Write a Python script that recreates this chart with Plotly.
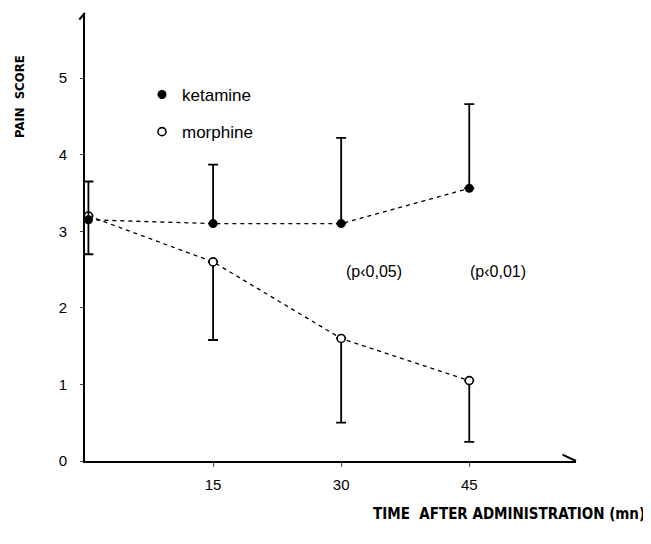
import plotly.graph_objects as go

# Data
time_min = [0.4, 15, 30, 45]
ketamine = [3.15, 3.1, 3.1, 3.56]
ketamine_err_plus = [0.5, 0.77, 1.12, 1.1]
ketamine_err_minus = [0.45, 0, 0, 0]
morphine = [3.2, 2.6, 1.6, 1.05]
morphine_err_plus = [0, 0, 0, 0]
morphine_err_minus = [0, 1.02, 1.1, 0.8]
x_ticks = [15, 30, 45]
y_ticks = [0, 1, 2, 3, 4, 5]
p_labels = ["(p‹0,05)", "(p‹0,01)"]
p_label_x = [33.8, 48.4]
p_label_y = 2.48

W, H = 651, 544
OFF = 7  # page body margin offset
L, T = 84 - OFF, 12 - OFF
pw, ph = 491, 448
R, B = W - L - pw, H - T - ph


def px2paper(px, py):
    return (px - 84) / pw, (460 - py) / ph


fig = go.Figure()

fig.add_trace(go.Scatter(
    x=time_min, y=morphine, mode="lines+markers", name="morphine",
    line=dict(color="black", width=1.3, dash="4px,4px"),
    marker=dict(symbol="circle", size=8, color="white", line=dict(width=1.6, color="black")),
    error_y=dict(type="data", symmetric=False, array=morphine_err_plus,
                 arrayminus=morphine_err_minus, color="black", thickness=1.8, width=5),
    showlegend=False, cliponaxis=False))

fig.add_trace(go.Scatter(
    x=time_min, y=ketamine, mode="lines+markers", name="ketamine",
    line=dict(color="black", width=1.3, dash="4px,4px"),
    marker=dict(symbol="circle", size=9, color="black"),
    error_y=dict(type="data", symmetric=False, array=ketamine_err_plus,
                 arrayminus=ketamine_err_minus, color="black", thickness=1.8, width=5),
    showlegend=False, cliponaxis=False))

# Legend entries
fig.add_trace(go.Scatter(x=[None], y=[None], mode="markers", name="ketamine",
                         marker=dict(symbol="circle", size=9, color="black"),
                         legendgroup="k"))
fig.add_trace(go.Scatter(x=[None], y=[None], mode="markers", name="morphine",
                         marker=dict(symbol="circle", size=8, color="white",
                                     line=dict(width=1.6, color="black")),
                         legendgroup="m"))

for lab, xv in zip(p_labels, p_label_x):
    fig.add_annotation(x=xv, y=p_label_y, text=lab, showarrow=False,
                       font=dict(family="Liberation Sans", size=16, color="black"))

# axis arrows
fig.add_annotation(x=1, y=0, xref="paper", yref="paper", ax=-15, ay=-7,
                   showarrow=True, arrowhead=0, arrowwidth=2, arrowcolor="black", text="")
fig.add_annotation(x=0, y=1, xref="paper", yref="paper", ax=-7, ay=8,
                   showarrow=True, arrowhead=0, arrowwidth=2, arrowcolor="black", text="")

ax_, ay_ = px2paper(18, 96)
fig.add_annotation(x=ax_, y=ay_, xref="paper", yref="paper", text="<b>PAIN  SCORE</b>",
                   showarrow=False, textangle=-90, xanchor="center", yanchor="middle",
                   font=dict(family="DejaVu Sans Condensed", size=13, color="black"))
bx_, by_ = px2paper(508, 513)
fig.add_annotation(x=bx_, y=by_, xref="paper", yref="paper",
                   text="<b>TIME  AFTER ADMINISTRATION (mn)</b>",
                   showarrow=False, xanchor="center", yanchor="middle",
                   font=dict(family="DejaVu Sans Condensed", size=15, color="black"))

lx, ly = px2paper(141, 76)
fig.update_layout(
    width=W, height=H, margin=dict(l=L, r=R, t=T, b=B),
    plot_bgcolor="white", paper_bgcolor="white",
    font=dict(family="Liberation Sans", size=15, color="black"),
    legend=dict(x=lx, y=ly, xanchor="left", yanchor="top",
                tracegroupgap=12, font=dict(size=17), bgcolor="rgba(0,0,0,0)"),
    xaxis=dict(range=[0, 57.5], tickvals=x_ticks, ticks="outside", ticklen=4,
               tickwidth=1.2, showline=True, linewidth=2, linecolor="black",
               showgrid=False, zeroline=False, ticklabelstandoff=5),
    yaxis=dict(range=[0, 5.85], tickvals=y_ticks, ticks="outside", ticklen=3,
               tickwidth=1.2, showline=True, linewidth=2, linecolor="black",
               showgrid=False, zeroline=False, ticklabelstandoff=10),
)

fig.write_html("out.html")
